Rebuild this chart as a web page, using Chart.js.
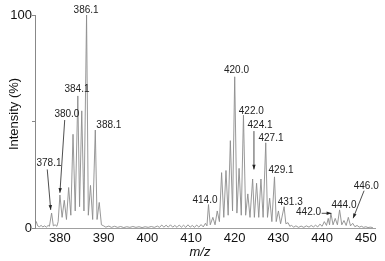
<!DOCTYPE html>
<html>
<head>
<meta charset="utf-8">
<script src="https://cdn.jsdelivr.net/npm/chart.js@4.4.0/dist/chart.umd.min.js"></script>
<style>
  html, body { margin: 0; padding: 0; background: #fff; }
  #wrap { width: 385px; height: 261px; }
</style>
</head>
<body>
<div id="wrap"><canvas id="spectrum"></canvas></div>
<script>
// m/z and relative intensity (%)
const mz = [
  374.3, 374.6, 374.9, 375.3, 375.7, 376.1, 376.5, 376.9, 377.3, 377.6,
  378.1, 378.5, 378.9, 379.3, 379.6,
  380.0, 380.5, 381.0, 381.5, 382.0, 382.5, 383.0, 383.5, 384.1, 384.5,
  385.0, 385.5, 386.1, 386.5, 387.0, 387.5, 388.1, 388.5, 389.0, 389.5, 390.0,
  390.5, 391.2, 391.8, 392.5, 393.2, 393.9, 394.6, 395.3, 396.0, 396.7,
  397.4, 398.1, 398.8, 399.5, 400.2, 400.9, 401.6, 402.3, 402.8, 403.3,
  403.8, 404.3, 404.8, 405.3, 405.8, 406.3, 406.8, 407.3, 407.8, 408.3,
  408.8, 409.3, 409.8, 410.3, 410.8, 411.3, 411.8, 412.3, 412.8, 413.3, 413.65,
  414.0, 414.4, 415.0, 415.5, 416.0, 416.5, 417.0, 417.5, 418.0, 418.5,
  419.0, 419.5, 420.0, 420.5, 421.0, 421.5, 422.0, 422.5, 423.0, 423.5,
  424.1, 424.5, 425.0, 425.5, 426.0, 426.5, 427.1, 427.5, 428.0, 428.5,
  429.1, 429.5, 430.0, 430.5, 431.3, 431.7, 432.2, 432.6,
  433.0, 433.5, 434.0, 434.6, 435.2, 435.8, 436.4, 437.0, 437.5, 438.0,
  438.5, 439.0, 439.5, 440.0, 440.5, 441.0, 441.4, 441.7, 442.0, 442.5,
  443.0, 443.5, 444.0, 444.5, 445.0, 445.5, 446.0, 446.5, 447.0, 447.5,
  448.0, 448.5, 449.0, 449.5, 450.0, 450.5, 451.0, 451.6
];
const intensity = [
  1.5, 3.0, 1.0, 0.6, 1.2, 0.5, 1.0, 0.4, 1.2, 0.8,
  7.0, 1.0, 1.5, 0.8, 3.0,
  15.5, 5, 13, 4, 19, 6, 44, 8, 62, 10,
  55, 8, 100, 6, 20, 4, 46, 4, 12, 1.5, 1.0,
  0.4, 0.9, 0.3, 0.8, 0.3, 0.7, 0.2, 0.6, 0.3, 0.7,
  0.3, 0.6, 0.2, 0.6, 0.3, 0.7, 0.3, 0.9, 0.3, 1.4,
  0.4, 1.3, 0.4, 1.5, 0.4, 1.2, 0.3, 1.4, 0.4, 1.3,
  0.3, 1.5, 0.4, 1.2, 0.3, 1.4, 0.4, 1.6, 0.5, 2.2, 1.0,
  11, 1.5, 5, 1.5, 8, 3, 26, 5, 27, 6,
  41, 8, 71, 7, 28, 6, 53, 6, 16, 5,
  23, 5, 21, 5, 23, 5, 40, 5, 14, 3,
  24, 3, 8, 2, 10, 2, 2.5, 0.8,
  1.2, 0.4, 1.0, 0.3, 0.9, 0.3, 1.0, 0.4, 1.2, 0.5,
  1.3, 0.5, 1.8, 0.8, 3.0, 1.2, 4.5, 1.5, 7, 1.5,
  4.5, 1.5, 8.5, 1.5, 3.5, 1.2, 5, 1.0, 2.2, 0.6,
  1.2, 0.4, 0.8, 0.3, 0.6, 0.2, 0.4, 0.2
];
const xTicks = [380, 390, 400, 410, 420, 430, 440, 450];
const yTicks = [0, 50, 100];
const yTickText = ["0", "", "100"];

// peak annotations: text, where its centre sits (m/z, %)
const peakLabels = [
  ["378.1", 377.5, 30.5], ["380.0", 381.6, 53.5], ["384.1", 383.9, 65.3],
  ["386.1", 386.0, 102.3], ["388.1", 391.2, 48.4], ["414.0", 413.2, 13.1],
  ["420.0", 420.4, 73.9], ["422.0", 423.8, 54.6], ["424.1", 425.8, 48.4],
  ["427.1", 428.3, 42.3], ["429.1", 430.6, 27.2], ["431.3", 432.7, 12.2],
  ["442.0", 436.9, 7.2], ["444.0", 445.0, 10.5], ["446.0", 450.1, 19.4]
];
// arrows from label to peak: [m/z0, %0, m/z1, %1]
const arrows = [
  [377.1, 27.5, 377.9, 8.5],
  [381.1, 50.7, 380.0, 16.5],
  [424.4, 45.5, 424.4, 27.5],
  [439.9, 6.9, 442.1, 6.9],
  [449.6, 17.5, 447.1, 4.6]
];

const annotate = {
  id: "annotate",
  afterDatasetsDraw(chart) {
    const { ctx, scales: { x, y } } = chart;
    ctx.save();
    ctx.fillStyle = "#222";
    ctx.font = "10px 'Liberation Sans', Arial, sans-serif";
    ctx.textAlign = "center";
    ctx.textBaseline = "middle";
    peakLabels.forEach(([t, mx, my]) => {
      ctx.fillText(t, x.getPixelForValue(mx), y.getPixelForValue(my));
    });

    ctx.strokeStyle = "#222";
    ctx.lineWidth = 0.8;
    arrows.forEach(([a, b, c, d]) => {
      const x0 = x.getPixelForValue(a), y0 = y.getPixelForValue(b);
      const x1 = x.getPixelForValue(c), y1 = y.getPixelForValue(d);
      const ang = Math.atan2(y1 - y0, x1 - x0);
      ctx.beginPath();
      ctx.moveTo(x0, y0);
      ctx.lineTo(x1, y1);
      ctx.stroke();
      ctx.beginPath();
      ctx.moveTo(x1, y1);
      ctx.lineTo(x1 - 5 * Math.cos(ang - 0.35), y1 - 5 * Math.sin(ang - 0.35));
      ctx.lineTo(x1 - 5 * Math.cos(ang + 0.35), y1 - 5 * Math.sin(ang + 0.35));
      ctx.closePath();
      ctx.fill();
    });

    // axis titles
    ctx.fillStyle = "#111";
    ctx.font = "13px 'Liberation Sans', Arial, sans-serif";
    ctx.save();
    ctx.translate(14, 114);
    ctx.rotate(-Math.PI / 2);
    ctx.fillText("Intensity (%)", 0, 0);
    ctx.restore();
    ctx.font = "italic 13px 'Liberation Sans', Arial, sans-serif";
    ctx.fillText("m/z", 200, 252);
    ctx.restore();
  }
};

new Chart(document.getElementById("spectrum"), {
  type: "line",
  data: {
    datasets: [
      {
        data: mz.map((m, i) => ({ x: m, y: intensity[i] })),
        borderColor: "#8c8c8c",
        borderWidth: 0.9,
        pointRadius: 0,
        tension: 0,
        fill: false,
      },
    ],
  },
  options: {
    responsive: true,
    maintainAspectRatio: false,
    animation: false,
    layout: { padding: { top: 15, right: 10, left: 0, bottom: 0 } },
    plugins: { legend: { display: false }, tooltip: { enabled: false } },
    scales: {
      x: {
        type: "linear",
        min: 374.3,
        max: 452.1,
        afterBuildTicks: (s) => { s.ticks = xTicks.map((v) => ({ value: v })); },
        afterFit: (s) => { s.height = 33; },
        grid: { display: false, drawTicks: false },
        border: { display: true, color: "#a0a0a0", width: 1 },
        ticks: {
          padding: 3,
          color: "#111",
          font: { size: 13, family: "'Liberation Sans', Arial, sans-serif" },
          maxRotation: 0,
        },
      },
      y: {
        min: 0,
        max: 100,
        afterBuildTicks: (s) => { s.ticks = yTicks.map((v) => ({ value: v })); },
        afterFit: (s) => { s.width = 35; },
        grid: { drawOnChartArea: false, tickLength: 3, color: "#888" },
        border: { display: true, color: "#888", width: 1 },
        ticks: {
          padding: 0,
          color: "#111",
          font: { size: 13, family: "'Liberation Sans', Arial, sans-serif" },
          callback: (v) => yTickText[yTicks.indexOf(v)],
        },
      },
    },
  },
  plugins: [annotate],
});
</script>
</body>
</html>
